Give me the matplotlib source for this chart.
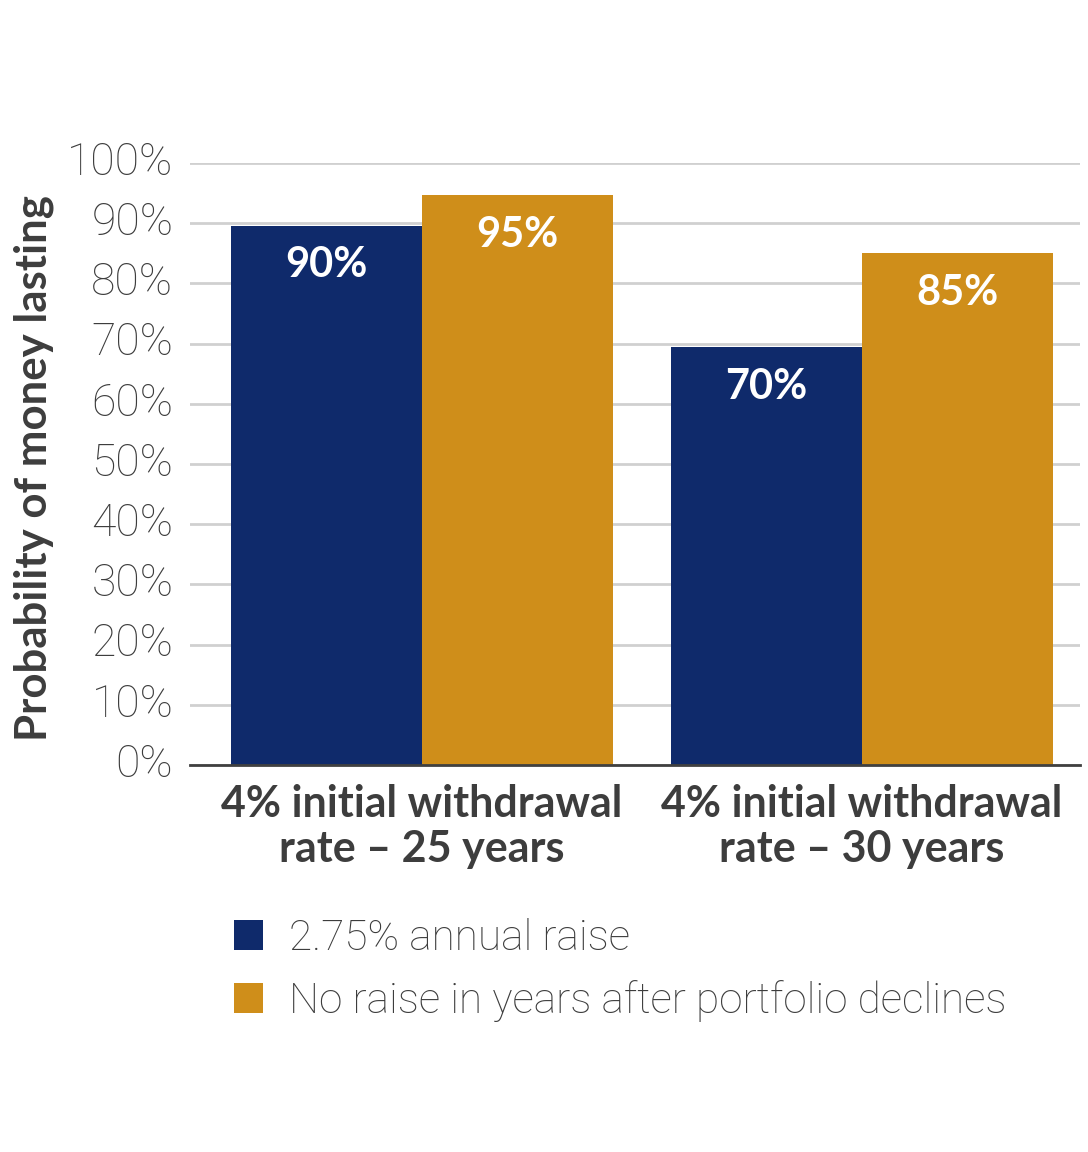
import matplotlib
matplotlib.use("Agg")
import matplotlib.pyplot as plt
import matplotlib.transforms as mtransforms
from matplotlib.patches import Patch
import numpy as np

categories = ["4% initial withdrawal\nrate – 25 years", "4% initial withdrawal\nrate – 30 years"]
series_names = ["2.75% annual raise", "No raise in years after portfolio declines"]
raise_vals = [89.6, 69.4]
noraise_vals = [94.7, 85.0]
raise_labels = ["90%", "70%"]
noraise_labels = ["95%", "85%"]
yticks = [0, 10, 20, 30, 40, 50, 60, 70, 80, 90, 100]
ytick_labels = [f"{v}%" for v in yticks]

BLUE = "#0f2a6b"
GOLD = "#cf8e1a"
TEXT = "#3d3d3d"
LIGHTFONT = ['Roboto', 'DejaVu Sans']

plt.rcParams['font.family'] = ['Lato', 'DejaVu Sans']

fig = plt.figure(figsize=(10.88, 11.52), dpi=100)
ax = fig.add_axes([190/1088, 1-765/1152, (1080-190)/1088, (765-163)/1152])

x = np.arange(len(categories))
w = 0.434
b1 = ax.bar(x - w/2, raise_vals, w, color=BLUE, zorder=3)
b2 = ax.bar(x + w/2, noraise_vals, w, color=GOLD, zorder=3)

for bars, labels in ((b1, raise_labels), (b2, noraise_labels)):
    for rect, lab in zip(bars, labels):
        ax.text(rect.get_x() + rect.get_width()/2, rect.get_height() - 6.6, lab,
                ha='center', va='center', color='white', fontsize=30,
                fontweight='bold', zorder=4)

ax.set_xlim(-0.527, 1.495)
ax.set_ylim(0, 100)
ax.set_yticks(yticks)
ax.set_yticklabels(ytick_labels, fontsize=32, color=TEXT, fontweight='light', family=LIGHTFONT)
ax.tick_params(axis='y', length=0, pad=12)
offset = mtransforms.ScaledTranslation(0, 5/100, fig.dpi_scale_trans)
for lbl in ax.get_yticklabels():
    lbl.set_verticalalignment('center_baseline')
    lbl.set_transform(lbl.get_transform() + offset)
ax.set_xticks(x)
ax.set_xticklabels(categories, fontsize=31, fontweight='bold', color=TEXT, linespacing=1.15)
ax.tick_params(axis='x', length=0, pad=14)

ax.yaxis.grid(True, color="#d0d0d0", linewidth=2, zorder=0)
ax.set_axisbelow(True)
for s in ('top', 'right', 'left'):
    ax.spines[s].set_visible(False)
ax.spines['bottom'].set_color("#404040")
ax.spines['bottom'].set_linewidth(2)
ax.spines['bottom'].set_zorder(5)

ax.set_ylabel("Probability of money lasting", fontsize=31.5, fontweight='bold', color=TEXT)
ax.yaxis.set_label_coords((54 - 190) / 890, (765 - 468) / 602)

handles = [Patch(facecolor=BLUE, edgecolor='none'), Patch(facecolor=GOLD, edgecolor='none')]
leg = fig.legend(handles, series_names, loc='upper left', bbox_to_anchor=(204/1088, 1-888/1152),
                 frameon=False, fontsize=30.5, handlelength=0.7, handleheight=0.7,
                 handletextpad=0.6, labelspacing=0.5, borderpad=0.2)
for t in leg.get_texts():
    t.set_color(TEXT)
    t.set_fontweight('light')
    t.set_family(LIGHTFONT)

fig.savefig("out.png", dpi=100, facecolor='white')
